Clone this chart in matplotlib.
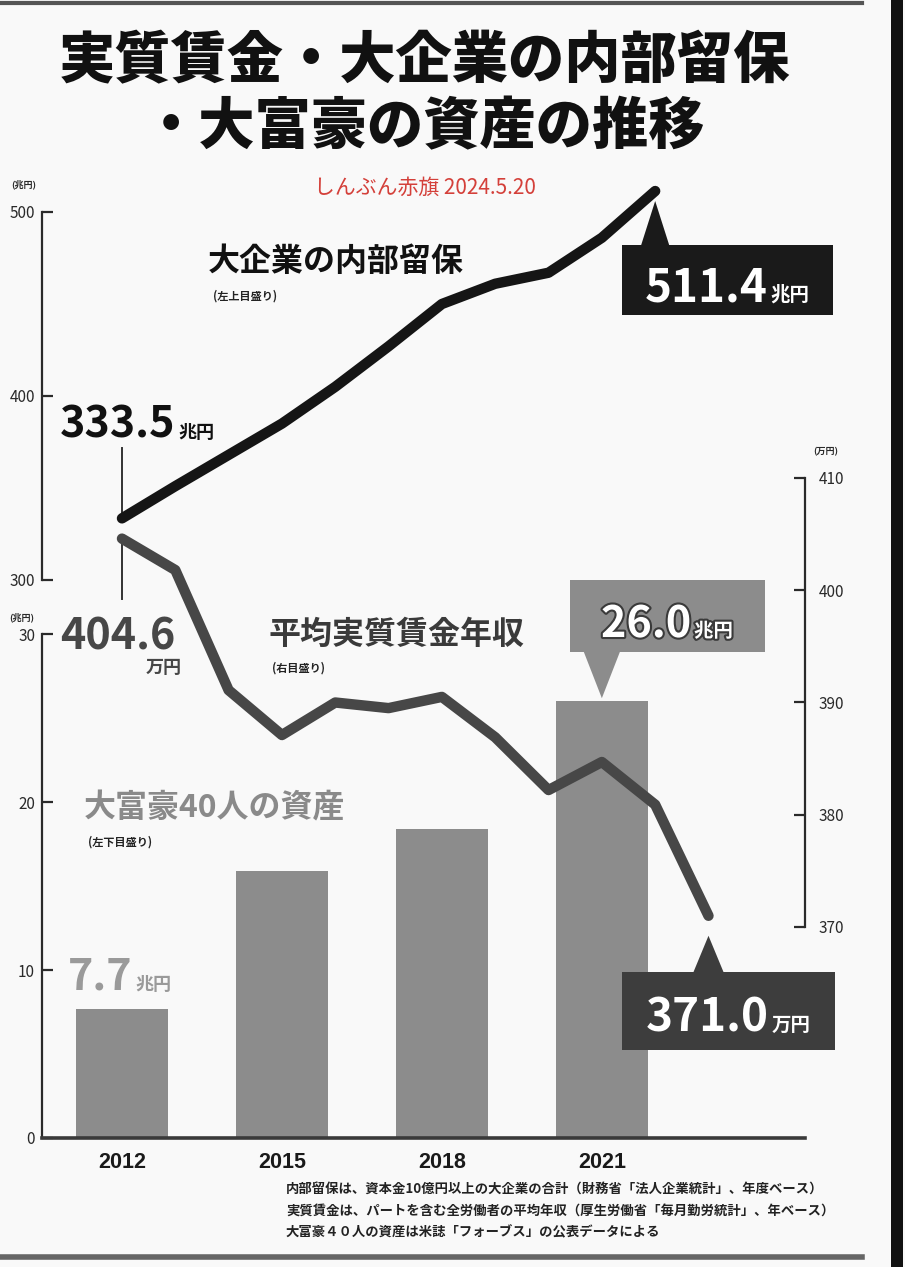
import matplotlib
matplotlib.use("Agg")
import matplotlib.pyplot as plt
from matplotlib.patches import Polygon, Rectangle
from matplotlib.lines import Line2D
from matplotlib.transforms import IdentityTransform
import matplotlib.patheffects as pe

W, H = 905, 1267
JP = ['Noto Sans CJK JP', 'DejaVu Sans']
plt.rcParams['font.family'] = JP

# ---- data ----
reserve_years = list(range(2012, 2023))
reserve = [333.5, 351, 368, 385, 405, 427, 450, 461, 467, 486, 511.4]   # 兆円
wage_years = list(range(2012, 2024))
wage = [404.6, 401.8, 391.1, 387.1, 390.0, 389.5, 390.5, 386.9, 382.2, 384.7, 380.9, 371.0]  # 万円
rich_years = [2012, 2015, 2018, 2021]
rich_assets = [7.7, 15.9, 18.4, 26.0]   # 兆円
year_ticks = [2012, 2015, 2018, 2021]
reserve_ticks = [300, 400, 500]
asset_ticks = [0, 10, 20, 30]
wage_ticks = [370, 380, 390, 400, 410]

BG = '#f9f9f9'
BLACK = '#151515'
WAGE = '#474747'
BAR = '#8c8c8c'
AXC = '#2a2a2a'

fig = plt.figure(figsize=(W / 100, H / 100), dpi=100, facecolor=BG)
ID = IdentityTransform()
renderer = fig.canvas.get_renderer()


def rect(x0, y0, x1, y1):
    return [x0 / W, 1 - y1 / H, (x1 - x0) / W, (y1 - y0) / H]


def txt(x, y, s, **kw):
    return fig.text(x, H - y, s, transform=ID, **kw)


def num_unit(x, y, num, unit, nsize, usize, color, align='left', gap=3, **kw):
    t1 = txt(0, y, num, fontsize=nsize, color=color, fontweight='bold',
             va='baseline', ha='left', **kw)
    t2 = txt(0, y, unit, fontsize=usize, color=color, fontweight='bold',
             va='baseline', ha='left', **kw)
    w1 = t1.get_window_extent(renderer).width
    w2 = t2.get_window_extent(renderer).width
    total = w1 + gap + w2
    x0 = x - total / 2 if align == 'center' else x
    t1.set_x(x0)
    t2.set_x(x0 + w1 + gap)


def to_px(ax, xv, yv):
    dx, dy = ax.transData.transform((xv, yv))
    return dx, H - dy


XLIM = (2010.5, 2024.81)

# ---- bars: 大富豪40人の資産 (lower-left scale) ----
ax_bar = fig.add_axes(rect(42, 634, 805, 1138))
ax_bar.set_xlim(*XLIM)
ax_bar.set_ylim(0, 30)
ax_bar.bar(rich_years, rich_assets, width=1.72, color=BAR, zorder=2)
ax_bar.patch.set_visible(False)
for s in ('top', 'right'):
    ax_bar.spines[s].set_visible(False)
ax_bar.spines['left'].set_linewidth(1.6)
ax_bar.spines['left'].set_color(AXC)
ax_bar.spines['bottom'].set_linewidth(2.6)
ax_bar.spines['bottom'].set_color('#3a3a3a')
ax_bar.set_yticks(asset_ticks)
ax_bar.set_xticks(year_ticks)
ax_bar.set_xticklabels([str(y) for y in year_ticks], fontsize=15.5, fontweight='bold',
                       family=['Liberation Sans', 'DejaVu Sans'])
ax_bar.tick_params(axis='x', length=0, pad=10, colors='#1a1a1a')
ax_bar.tick_params(axis='y', direction='in', length=8, width=1.6, pad=5,
                   labelsize=11, colors=AXC)

# ---- line: 大企業の内部留保 (upper-left scale) ----
ax_top = fig.add_axes(rect(42, 212, 805, 580))
ax_top.set_xlim(*XLIM)
ax_top.set_ylim(300, 500)
ax_top.patch.set_visible(False)
for s in ('top', 'right', 'bottom'):
    ax_top.spines[s].set_visible(False)
ax_top.spines['left'].set_linewidth(1.6)
ax_top.spines['left'].set_color(AXC)
ax_top.set_xticks([])
ax_top.set_yticks(reserve_ticks)
ax_top.tick_params(axis='y', direction='in', length=8, width=1.6, pad=5,
                   labelsize=11, colors=AXC)

# ---- line: 平均実質賃金年収 (right scale) ----
ax_r = fig.add_axes(rect(42, 478, 805, 927))
ax_r.set_xlim(*XLIM)
ax_r.set_ylim(370, 410)
ax_r.patch.set_visible(False)
for s in ('top', 'left', 'bottom'):
    ax_r.spines[s].set_visible(False)
ax_r.spines['right'].set_linewidth(1.6)
ax_r.spines['right'].set_color(AXC)
ax_r.set_xticks([])
ax_r.yaxis.tick_right()
ax_r.set_yticks(wage_ticks)
ax_r.tick_params(axis='y', direction='in', length=8, width=1.6, pad=10,
                 labelsize=11, colors=AXC)

ax_r.set_zorder(3)
ax_top.set_zorder(4)

# leader lines from the start labels
ax_top.plot([2012, 2012], [reserve[0], 372], color='#333333', lw=1.4, clip_on=False, zorder=1)
ax_r.plot([2012, 2012], [wage[0], 399.2], color='#333333', lw=1.4, clip_on=False, zorder=1)

ax_r.plot(wage_years, wage, color=WAGE, lw=7.5, solid_capstyle='round',
          solid_joinstyle='round', clip_on=False, zorder=5)
ax_top.plot(reserve_years, reserve, color=BLACK, lw=7.5, solid_capstyle='round',
            solid_joinstyle='round', clip_on=False, zorder=5)

# unit labels above the scales
txt(24, 184, '(兆円)', fontsize=6.5, fontweight='bold', ha='center', va='center', color=AXC)
txt(22, 617, '(兆円)', fontsize=6.5, fontweight='bold', ha='center', va='center', color=AXC)
txt(826, 452, '(万円)', fontsize=6.5, fontweight='bold', ha='center', va='center', color=AXC)

# ---- title ----
txt(424, 62, '実質賃金・大企業の内部留保', fontsize=40.5, fontweight='heavy',
    ha='center', va='center', color='#111111')
txt(424, 128, '・大富豪の資産の推移', fontsize=40.5, fontweight='heavy',
    ha='center', va='center', color='#111111')
txt(425, 188, 'しんぶん赤旗 2024.5.20', fontsize=15, ha='center', va='center',
    color='#d4403a')

# ---- series labels ----
txt(208, 262, '大企業の内部留保', fontsize=23, fontweight='bold', ha='left', va='center', color='#111111')
txt(213, 296, '(左上目盛り)', fontsize=8, fontweight='bold', ha='left', va='center', color='#222222')
txt(268, 635, '平均実質賃金年収', fontsize=23, fontweight='bold', ha='left', va='center', color='#3a3a3a')
txt(272, 668, '(右目盛り)', fontsize=8, fontweight='bold', ha='left', va='center', color='#222222')
txt(84, 808, '大富豪40人の資産', fontsize=23, fontweight='bold', ha='left', va='center', color='#8a8a8a')
txt(88, 842, '(左下目盛り)', fontsize=8, fontweight='bold', ha='left', va='center', color='#222222')

# ---- start value labels ----
num_unit(60, 438, f'{reserve[0]:.1f}', '兆円', 31, 13, '#111111')
txt(60, 650, f'{wage[0]:.1f}', fontsize=31, fontweight='bold', ha='left', va='baseline', color=WAGE)
txt(182, 673, '万円', fontsize=13, fontweight='bold', ha='right', va='baseline', color=WAGE)
num_unit(68, 990, f'{rich_assets[0]:.1f}', '兆円', 31, 13, '#9a9a9a')


# ---- callouts ----
def callout(box, apex, color, half=13):
    x0, y0, x1, y1 = box
    fig.add_artist(Rectangle((x0, H - y1), x1 - x0, y1 - y0, transform=ID,
                             facecolor=color, edgecolor='none', zorder=6))
    ax_, ay_ = apex
    base_y = y0 if ay_ < y0 else y1
    fig.add_artist(Polygon([(ax_ - half, H - base_y), (ax_ + half, H - base_y), (ax_, H - ay_)],
                           closed=True, transform=ID, facecolor=color, edgecolor='none', zorder=6))


# 511.4 兆円 (reserve end)
ex, ey = to_px(ax_top, reserve_years[-1], reserve[-1])
callout((622, 245, 833, 315), (ex, ey + 10), '#1a1a1a', half=14)
num_unit(727, 301, f'{reserve[-1]:.1f}', '兆円', 33, 14, 'white', align='center', zorder=9)

# 26.0 兆円 (2021 bar)
bx, by = to_px(ax_bar, rich_years[-1], rich_assets[-1])
callout((570, 580, 765, 652), (bx, by - 3), BAR, half=18)
num_unit(667, 637, f'{rich_assets[-1]:.1f}', '兆円', 31, 14, 'white', align='center', zorder=9,
         path_effects=[pe.withStroke(linewidth=3, foreground='#3a3a3a')])

# 371.0 万円 (wage end)
wx, wy = to_px(ax_r, wage_years[-1], wage[-1])
callout((622, 972, 835, 1050), (wx, wy + 20), '#3d3d3d', half=15)
num_unit(728, 1031, f'{wage[-1]:.1f}', '万円', 33, 14, 'white', align='center', zorder=9)

# ---- source notes ----
notes = [
    '内部留保は、資本金10億円以上の大企業の合計（財務省「法人企業統計」、年度ベース）',
    '実質賃金は、パートを含む全労働者の平均年収（厚生労働省「毎月勤労統計」、年ベース）',
    '大富豪４０人の資産は米誌「フォーブス」の公表データによる',
]
for i, line in enumerate(notes):
    txt(286, 1190 + i * 21, line, fontsize=9.6, fontweight='bold', ha='left',
        va='center', color='#222222')

# ---- page frame ----
fig.add_artist(Rectangle((846, H - 945), 45, 500, transform=ID, facecolor=BG,
                         edgecolor='none', zorder=7))
fig.add_artist(Line2D([0, 862], [H - 3, H - 3], transform=ID, color='#555555', lw=3, zorder=8))
fig.add_artist(Line2D([0, 862], [H - 1257, H - 1257], transform=ID, color='#666666', lw=4, zorder=8))
fig.add_artist(Rectangle((891, 0), 12, H, transform=ID, facecolor='#111111',
                         edgecolor='none', zorder=8))

fig.savefig('out.png', dpi=100, facecolor=BG)
